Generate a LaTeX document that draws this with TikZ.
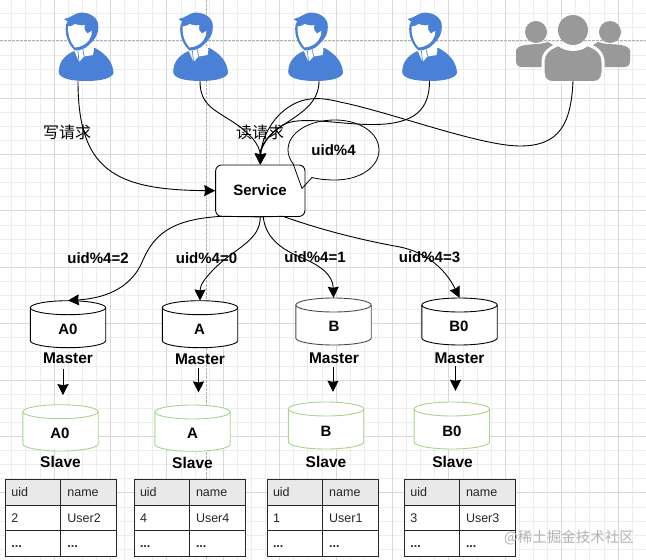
\documentclass[tikz,border=0pt]{standalone}
\usepackage{fontspec}
\setmainfont{Liberation Sans}
\newfontfamily\cjk{Noto Sans CJK SC}
\usetikzlibrary{arrows.meta,calc}
\definecolor{gridminor}{HTML}{EDEDED}
\definecolor{gridmajor}{HTML}{D8D8D8}
\definecolor{userblue}{HTML}{4A81D6}
\definecolor{groupgray}{HTML}{999999}
\definecolor{slavegreen}{HTML}{A5D58A}
\definecolor{headfill}{HTML}{E9E9E9}
\tikzset{
  x=1pt,y=-1pt,
  boldlab/.style={font=\bfseries\fontsize{15}{18}\selectfont,inner sep=0pt},
  biglab/.style={font=\bfseries\fontsize{15.5}{18}\selectfont,inner sep=0pt},
  celltext/.style={font=\fontsize{12.5}{15}\selectfont,inner sep=0pt,anchor=base west,text=black!85},
  cjklab/.style={font=\cjk\fontsize{16}{19}\selectfont,inner sep=0pt},
  iconbox/.style={inner sep=0pt,minimum width=56,minimum height=68},
  cylbox/.style={inner sep=0pt,minimum width=75.4,minimum height=47},
  conn/.style={draw=black,line width=0.9pt,-{Stealth[length=11pt,width=11pt,inset=1pt]}},
  pics/person/.style={code={
    \fill[userblue] (-27.3,72) .. controls (-27,62) and (-22,56) .. (-13,51.5)
       -- (9,48) .. controls (20,54) and (27,62) .. (27.5,73)
       .. controls (26,78) and (16,81) .. (0,81)
       .. controls (-16,81) and (-27,78) .. (-27.3,72) -- cycle;
    \fill[white] (-12,50) -- (-7,62) -- (-2,56.5) -- (7,55) -- (8,49) -- (5,45) -- (-2,50) -- cycle;
    \draw[userblue,line width=0.7pt] (-7,62) -- (-8,51) (-2,56.5) -- (-3,50);
    \fill[userblue] (-22,19) .. controls (-15,18) and (-11,13) .. (-6,12.7)
       .. controls (4,12) and (13,18) .. (12.3,27)
       .. controls (12.3,35) and (9,39) .. (4,44)
       .. controls (0,49) and (-8,51) .. (-11,50.5)
       .. controls (-16,46) and (-20.5,38) .. (-20.3,29)
       .. controls (-20.3,25) and (-19.5,23) .. (-18.3,21.5) -- cycle;
    \fill[white] (-17.8,26.5) .. controls (-14,26) and (-12,25) .. (-11,24)
       .. controls (-7,25.5) and (-3,25.5) .. (-1.2,25)
       .. controls (-2,29) and (-1,32) .. (1.3,33.5)
       -- (5.8,31) .. controls (5.8,35) and (5,37) .. (3,40)
       .. controls (0,44.5) and (-5,47) .. (-11,47.5)
       .. controls (-15,43) and (-18.5,36) .. (-17.8,26.5) -- cycle;
  }},
  pics/group/.style={code={
    \fill[groupgray] (-37,32) circle (11) (37,32) circle (11);
    \fill[groupgray] (-25,42) .. controls (-35,46) and (-53,42) .. (-57,50)
       -- (-57,61) .. controls (-57,65) and (-55,67) .. (-51,67) -- (-20,67) -- (-20,45) -- cycle;
    \fill[groupgray] (25,42) .. controls (35,46) and (53,42) .. (57,50)
       -- (57,61) .. controls (57,65) and (55,67) .. (51,67) -- (20,67) -- (20,45) -- cycle;
    \fill[groupgray,draw=white,line width=3pt] (-30,72) -- (-30,62)
       .. controls (-30,52) and (-22,47) .. (-14,44.5)
       .. controls (-8,51) and (8,51) .. (14,44.5)
       .. controls (22,47) and (30,52) .. (30,62) -- (30,72)
       .. controls (30,79) and (26,82.5) .. (21,82.5) -- (-21,82.5)
       .. controls (-26,82.5) and (-30,79) .. (-30,72) -- cycle;
    \fill[groupgray] (0,30) circle (15);
  }}
}
% name, centre x, top y, bottom y, colour
\newcommand{\cylshape}[5]{%
  \pgfmathsetmacro{\cl}{#2-37.7}\pgfmathsetmacro{\cr}{#2+37.7}
  \pgfmathsetmacro{\cka}{#2-20.7}\pgfmathsetmacro{\ckb}{#2+20.7}
  \pgfmathsetmacro{\cta}{#3+7}\pgfmathsetmacro{\ctb}{#3+14}\pgfmathsetmacro{\ctc}{#3+3.2}\pgfmathsetmacro{\ctd}{#3+10.8}
  \pgfmathsetmacro{\cba}{#4-7}\pgfmathsetmacro{\cbb}{#4-3.2}
  \node[cylbox] (#1) at (#2,{(#3+#4)/2}) {};
  \draw[#5,line width=0.9pt,fill=white,line join=round]
    (\cl,\cta) .. controls (\cl,\ctc) and (\cka,#3) .. (#2,#3)
    .. controls (\ckb,#3) and (\cr,\ctc) .. (\cr,\cta)
    -- (\cr,\cba) .. controls (\cr,\cbb) and (\ckb,#4) .. (#2,#4)
    .. controls (\cka,#4) and (\cl,\cbb) .. (\cl,\cba) -- cycle;
  \draw[#5,line width=0.9pt]
    (\cl,\cta) .. controls (\cl,\ctd) and (\cka,\ctb) .. (#2,\ctb)
    .. controls (\ckb,\ctb) and (\cr,\ctd) .. (\cr,\cta);
}
% x0, x1, x2, prefix, id, user
\newcommand{\usertable}[6]{%
  \fill[white] (#1,479.7) rectangle (#3,556.3);
  \fill[headfill] (#1,479.7) rectangle (#3,505.7);
  \draw[black!85,line width=0.9pt] (#1,479.7) rectangle (#3,556.3)
    (#1,505.7) -- (#3,505.7) (#1,530.3) -- (#3,530.3) (#2,479.7) -- (#2,556.3);
  \node[celltext] (#4h1) at (#1+5.5,496) {uid};
  \node[celltext] (#4h2) at (#2+6.5,496) {name};
  \node[celltext] (#4v1) at (#1+5.5,522) {#5};
  \node[celltext] (#4v2) at (#2+6.5,522) {#6};
  \node[celltext] (#4d1) at (#1+5.5,547.5) {\textbf{...}};
  \node[celltext] (#4d2) at (#2+6.5,547.5) {\textbf{...}};
}
\begin{document}
\begin{tikzpicture}
\useasboundingbox (0,0) rectangle (646,560);
\fill[white] (0,0) rectangle (646,560);
% grid
\foreach \i in {0,...,46} {
  \draw[gridminor,line width=0.8pt] ({-2.4+14.1*\i},0) -- ({-2.4+14.1*\i},560);
}
\foreach \i in {0,...,39} {
  \draw[gridminor,line width=0.8pt] (0,{-0.7+14.1*\i}) -- (646,{-0.7+14.1*\i});
}
\foreach \i in {0,...,10} {
  \draw[gridmajor,line width=0.9pt] ({54+56.4*\i},0) -- ({54+56.4*\i},560);
}
\foreach \i in {1,...,8} {
  \draw[gridmajor,line width=0.9pt] (0,{41.6+56.4*\i}) -- (646,{41.6+56.4*\i});
}
\draw[black!30,line width=0.7pt,dash pattern=on 2.5pt off 1.5pt] (0,40.7) -- (646,40.7);
\draw[black!30,line width=0.7pt,dash pattern=on 2.5pt off 1.5pt] (206.5,0) -- (206.5,560);

% icons
\node[iconbox] (u1) at (86,47) {};
\node[iconbox] (u2) at (200.5,47) {};
\node[iconbox] (u3) at (315.5,47) {};
\node[iconbox] (u4) at (429.5,47) {};
\node[iconbox,minimum width=114] (grp) at (573,47) {};
\pic at (86,0) {person};
\pic at (200.5,0) {person};
\pic at (315.5,0) {person};
\pic at (429.5,0) {person};
\pic at (573,0) {group};

% service and bubble
\node[draw=black,fill=white,rounded corners=6pt,line width=0.9pt,inner sep=0pt,minimum width=89.3,minimum height=51.5] (svc) at (260.3,190.7) {};
\node[boldlab] (svct) at (260,190.5) {Service};
\coordinate (tip) at (302,188.5);
\draw[black,line width=0.8pt] (tip) -- (312,177.5)
  .. controls (320,179.5) and (328,180) .. (335,180)
  .. controls (360,180) and (379,167) .. (379,150)
  .. controls (379,133) and (360,120) .. (335,120)
  .. controls (308,120) and (288,133) .. (288,150)
  .. controls (288,155) and (290,160) .. (293,163.5) -- (tip);
\node[boldlab] (bub) at (333.5,150) {uid\%4};

% databases
\cylshape{a0m}{68}{300.7}{347.7}{black}
\cylshape{am}{200}{300.7}{347.7}{black}
\cylshape{bm}{333.5}{298}{345}{black!70}
\cylshape{b0m}{459.5}{298}{345}{black}
\cylshape{a0s}{60.5}{404.7}{451}{slavegreen}
\cylshape{as}{192.5}{405}{451.3}{slavegreen}
\cylshape{bs}{326}{402}{449}{slavegreen}
\cylshape{b0s}{451.8}{402}{449}{slavegreen}
\node[boldlab] (a0ml) at (68,329.5) {A0};
\node[boldlab] (aml) at (199.5,329.5) {A};
\node[boldlab] (bml) at (334,326) {B};
\node[boldlab] (b0ml) at (459,326) {B0};
\node[boldlab] (a0sl) at (60,433.5) {A0};
\node[boldlab] (asl) at (192.5,433.5) {A};
\node[boldlab] (bsl) at (326,431) {B};
\node[boldlab] (b0sl) at (452,431) {B0};
\node[biglab] (a0mt) at (68,358.5) {Master};
\node[biglab] (amt) at (200,359) {Master};
\node[biglab] (bmt) at (334,358.5) {Master};
\node[biglab] (b0mt) at (459.5,358.5) {Master};
\node[biglab] (a0st) at (60.5,461.5) {Slave};
\node[biglab] (ast) at (192.5,463) {Slave};
\node[biglab] (bst) at (326,461.5) {Slave};
\node[biglab] (b0st) at (452.5,461.5) {Slave};

% master -> slave
\draw[conn] ([xshift=-5]a0mt.south) ++(0,5) -- ($(a0s.north)+(2.5,-9)$);
\draw[conn] ([xshift=-1.5]amt.south) ++(0,3) -- ($(as.north)+(6,-12)$);
\draw[conn] ([xshift=-1]bmt.south) ++(0,3) -- ($(bs.north)+(7,-10)$);
\draw[conn] ([xshift=-4]b0mt.south) ++(0,2) -- ($(b0s.north)+(3.7,-11)$);

% user -> service
\draw[conn] ([xshift=-8]u1.south) .. controls +(0,89) and (115,190) .. (svc.west);
\draw[conn] ([xshift=-0.5]u2.south) .. controls +(0,24) and (215,110) .. (233,122)
   .. controls (250,133) and (260,145) .. (svc.north);
\draw[conn] ([xshift=3.5]u3.south) .. controls +(0,22) and (300,114) .. (283,125)
   .. controls (270,133) and (260,145) .. (svc.north);
\draw[conn] (u4.south) .. controls +(0,28) and (415,124) .. (375,124.5)
   .. controls (340,125) and (300,115) .. (283,125)
   .. controls (270,133) and (261,145) .. (svc.north);
\draw[conn] (grp.south) .. controls +(-2,42) and (560,146) .. (520,146)
   .. controls (480,146) and (390,112) .. (340,102)
   .. controls (320,97) and (300,95) .. (280,114)
   .. controls (266,128) and (261,145) .. (svc.north);

% service -> masters
\draw[conn] (svc.south) -- (222,216.3) .. controls (175,219) and (155,232) .. (143,260)
   .. controls (133,285) and (110,298) .. (a0m.north);
\draw[conn] (svc.south) .. controls +(0,24) and (235,248) .. (215,268)
   .. controls (205,278) and (200,285) .. (am.north);
\draw[conn] (svc.south) ++(3,0) .. controls (265,235) and (278,248) .. (300,257)
   .. controls (320,265) and (333,275) .. (bm.north);
\draw[conn] (svc.south) -- (283,216.3) .. controls (310,226) and (350,238) .. (400,247)
   .. controls (425,252) and (445,268) .. (b0m.north);

% labels
\node[cjklab] (wr) at (67,132) {写请求};
\node[cjklab] (rd) at (260,132) {读请求};
\node[boldlab] (k2) at (98,258) {uid\%4=2};
\node[boldlab] (k0) at (206.5,258.5) {uid\%4=0};
\node[boldlab] (k1) at (315,257.5) {uid\%4=1};
\node[boldlab] (k3) at (429.5,257) {uid\%4=3};

% tables
\usertable{5.7}{60.7}{116.7}{t0}{2}{User2}
\usertable{134.3}{189.3}{245.7}{t1}{4}{User4}
\usertable{267.3}{322.5}{378.3}{t2}{1}{User1}
\usertable{404.7}{459.3}{515.3}{t3}{3}{User3}

% watermark
\node[font=\cjk\fontsize{14.5}{17}\selectfont,text=black!30,inner sep=0pt] (wm) at (569,537.5) {@稀土掘金技术社区};
\end{tikzpicture}
\end{document}
